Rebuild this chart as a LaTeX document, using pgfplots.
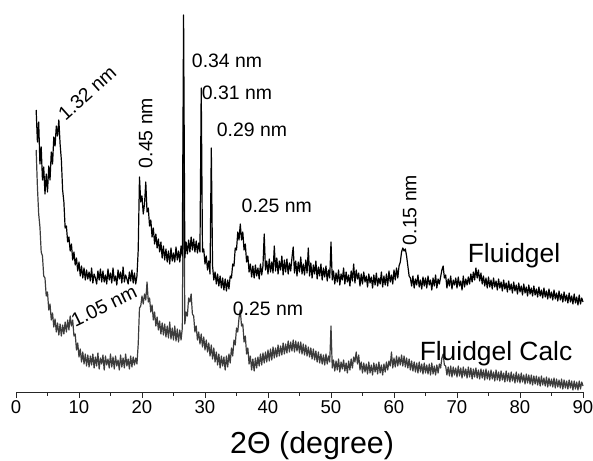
\documentclass[border=0pt]{standalone}
\usepackage{pgfplots}
\pgfplotsset{compat=1.18}
\usepackage{fontspec}
\setmainfont{Liberation Sans}
\definecolor{calc}{HTML}{3C3C3C}
\newcommand\lab{\fontsize{19.5}{22}\selectfont}
\newcommand\biglab{\fontsize{26.5}{30}\selectfont}
\begin{document}
\begin{tikzpicture}
\useasboundingbox (-16bp,-69bp) rectangle (577bp,392bp);
\begin{axis}[
  at={(0,0)}, anchor=south west,
  scale only axis, width=567bp, height=392bp,
  xmin=0, xmax=90, ymin=0, ymax=392,
  axis x line=bottom, axis y line=none,
  x axis line style={-, line width=0.9bp, color=black!85},
  xtick={0,10,...,90}, minor x tick num=1,
  tick align=outside, major tick length=6bp, minor tick length=3.5bp,
  every tick/.style={line width=0.9bp, color=black!85},
  xticklabel style={font=\fontsize{18.6}{20}\selectfont, inner sep=2bp},
  /pgf/number format/assume math mode=true,
  clip=false,
  every axis plot/.append style={line width=1.2bp, line join=round},
]
\addplot[calc] table[row sep=\\] {
x y\\
3.2 242\\ 3.4 205\\ 3.6 178\\ 3.8 165\\ 4.0 140\\ 4.2 136\\ 4.4 116\\ 4.6 114\\ 4.8 96\\ 5.0 100\\
5.2 82\\ 5.4 88\\ 5.6 72\\ 5.8 79\\ 6.0 65\\ 6.2 73\\ 6.4 60\\ 6.6 69\\ 6.8 57\\ 7.0 68\\
7.2 56\\ 7.4 67\\ 7.6 58\\ 7.8 70\\ 8.0 60\\ 8.2 72\\ 8.4 62\\ 8.6 76\\ 8.8 66\\ 9.0 72\\
9.2 56\\ 9.4 58\\ 9.6 42\\ 9.8 49\\ 10.0 35\\ 10.2 43\\ 10.4 30\\ 10.6 40\\ 10.8 28\\ 11.0 38\\
11.2 26\\ 11.4 37\\ 11.6 25\\ 11.8 36\\ 12.0 27\\ 12.2 38\\ 12.4 24\\ 12.6 35\\ 12.8 26\\ 13.0 39\\
13.2 23\\ 13.4 34\\ 13.6 28\\ 13.8 37\\ 14.0 22\\ 14.2 36\\ 14.4 27\\ 14.6 33\\ 14.8 24\\ 15.0 38\\
15.2 25\\ 15.4 35\\ 15.6 23\\ 15.8 36\\ 16.0 26\\ 16.2 32\\ 16.4 22\\ 16.6 37\\ 16.8 25\\ 17.0 34\\
17.2 24\\ 17.4 38\\ 17.6 26\\ 17.8 33\\ 18.0 23\\ 18.2 36\\ 18.4 25\\ 18.6 35\\ 18.8 27\\ 19.0 34\\
19.2 28\\ 19.4 48\\ 19.6 84\\ 19.8 86\\ 20.0 96\\ 20.2 88\\ 20.4 98\\ 20.6 92\\ 20.8 110\\ 21.0 90\\
21.2 94\\ 21.4 80\\ 21.6 87\\ 21.8 72\\ 22.0 80\\ 22.2 66\\ 22.4 75\\ 22.6 62\\ 22.8 71\\ 23.0 58\\
23.2 69\\ 23.4 57\\ 23.6 68\\ 23.8 55\\ 24.0 66\\ 24.2 54\\ 24.4 70\\ 24.6 53\\ 24.8 64\\ 25.0 52\\
25.2 66\\ 25.4 51\\ 25.6 63\\ 25.8 50\\ 26.0 62\\ 26.2 52\\ 26.4 64\\ 26.6 260\\ 26.8 68\\ 27.0 80\\
27.2 76\\ 27.4 94\\ 27.6 90\\ 27.8 98\\ 28.0 78\\ 28.2 76\\ 28.4 60\\ 28.6 66\\ 28.8 52\\ 29.0 60\\
29.2 48\\ 29.4 58\\ 29.6 45\\ 29.8 55\\ 30.0 42\\ 30.2 52\\ 30.4 40\\ 30.6 49\\ 30.8 36\\ 31.0 47\\
31.2 33\\ 31.4 44\\ 31.6 30\\ 31.8 40\\ 32.0 27\\ 32.2 38\\ 32.4 24\\ 32.6 36\\ 32.8 26\\ 33.0 35\\
33.2 22\\ 33.4 36\\ 33.6 25\\ 33.8 38\\ 34.0 29\\ 34.2 44\\ 34.4 36\\ 34.6 52\\ 34.8 47\\ 35.0 64\\
35.2 60\\ 35.4 74\\ 35.6 82\\ 35.8 66\\ 36.0 68\\ 36.2 50\\ 36.4 56\\ 36.6 38\\ 36.8 44\\ 37.0 28\\
37.2 36\\ 37.4 22\\ 37.6 33\\ 37.8 21\\ 38.0 34\\ 38.2 24\\ 38.4 35\\ 38.6 26\\ 38.8 38\\ 39.0 27\\
39.2 39\\ 39.4 29\\ 39.6 40\\ 39.8 30\\ 40.0 42\\ 40.2 31\\ 40.4 43\\ 40.6 32\\ 40.8 45\\ 41.0 34\\
41.2 44\\ 41.4 35\\ 41.6 47\\ 41.8 36\\ 42.0 46\\ 42.2 37\\ 42.4 49\\ 42.6 38\\ 42.8 48\\ 43.0 39\\
43.2 51\\ 43.4 40\\ 43.6 50\\ 43.8 41\\ 44.0 52\\ 44.2 40\\ 44.4 51\\ 44.6 41\\ 44.8 50\\ 45.0 39\\
45.2 50\\ 45.4 38\\ 45.6 48\\ 45.8 37\\ 46.0 47\\ 46.2 36\\ 46.4 45\\ 46.6 35\\ 46.8 44\\ 47.0 33\\
47.2 43\\ 47.4 32\\ 47.6 41\\ 47.8 30\\ 48.0 40\\ 48.2 29\\ 48.4 38\\ 48.6 28\\ 48.8 37\\ 49.0 27\\
49.2 38\\ 49.4 28\\ 49.6 36\\ 49.8 30\\ 50.0 66\\ 50.2 24\\ 50.4 32\\ 50.6 21\\ 50.8 31\\ 51.0 22\\
51.2 33\\ 51.4 20\\ 51.6 30\\ 51.8 23\\ 52.0 32\\ 52.2 21\\ 52.4 29\\ 52.6 19\\ 52.8 31\\ 53.0 22\\
53.2 33\\ 53.4 24\\ 53.6 35\\ 53.8 30\\ 54.0 40\\ 54.2 28\\ 54.4 37\\ 54.6 22\\ 54.8 30\\ 55.0 19\\
55.2 29\\ 55.4 20\\ 55.6 28\\ 55.8 18\\ 56.0 30\\ 56.2 19\\ 56.4 27\\ 56.6 17\\ 56.8 29\\ 57.0 20\\
57.2 28\\ 57.4 18\\ 57.6 30\\ 57.8 19\\ 58.0 27\\ 58.2 17\\ 58.4 28\\ 58.6 20\\ 58.8 30\\ 59.0 22\\
59.2 31\\ 59.4 26\\ 59.6 40\\ 59.8 24\\ 60.0 34\\ 60.2 25\\ 60.4 36\\ 60.6 26\\ 60.8 35\\ 61.0 27\\
61.2 37\\ 61.4 26\\ 61.6 36\\ 61.8 25\\ 62.0 34\\ 62.2 24\\ 62.4 33\\ 62.6 22\\ 62.8 31\\ 63.0 21\\
63.2 30\\ 63.4 20\\ 63.6 29\\ 63.8 19\\ 64.0 30\\ 64.2 20\\ 64.4 28\\ 64.6 18\\ 64.8 29\\ 65.0 19\\
65.2 27\\ 65.4 18\\ 65.6 28\\ 65.8 17\\ 66.0 29\\ 66.2 18\\ 66.4 26\\ 66.6 17\\ 66.8 27\\ 67.0 19\\
67.2 28\\ 67.4 24\\ 67.6 34\\ 67.8 38\\ 68.0 27\\ 68.2 26\\ 68.4 17\\ 68.6 25\\ 68.8 16\\ 69.0 26\\
69.2 15\\ 69.4 25\\ 69.6 17\\ 69.8 24\\ 70.0 15\\ 70.2 26\\ 70.4 16\\ 70.6 24\\ 70.8 14\\ 71.0 25\\
71.2 16\\ 71.4 23\\ 71.6 14\\ 71.8 25\\ 72.0 15\\ 72.2 24\\ 72.4 13\\ 72.6 23\\ 72.8 15\\ 73.0 24\\
73.2 14\\ 73.4 22\\ 73.6 13\\ 73.8 23\\ 74.0 14\\ 74.2 22\\ 74.4 12\\ 74.6 23\\ 74.8 13\\ 75.0 21\\
75.2 12\\ 75.4 22\\ 75.6 13\\ 75.8 20\\ 76.0 11\\ 76.2 22\\ 76.4 12\\ 76.6 20\\ 76.8 11\\ 77.0 21\\
77.2 12\\ 77.4 19\\ 77.6 10\\ 77.8 21\\ 78.0 11\\ 78.2 19\\ 78.4 10\\ 78.6 20\\ 78.8 11\\ 79.0 18\\
79.2 9\\ 79.4 20\\ 79.6 10\\ 79.8 18\\ 80.0 9\\ 80.2 19\\ 80.4 10\\ 80.6 17\\ 80.8 8\\ 81.0 18\\
81.2 9\\ 81.4 17\\ 81.6 8\\ 81.8 17\\ 82.0 7\\ 82.2 16\\ 82.4 8\\ 82.6 16\\ 82.8 7\\ 83.0 15\\
83.2 6\\ 83.4 16\\ 83.6 7\\ 83.8 14\\ 84.0 6\\ 84.2 15\\ 84.4 5\\ 84.6 14\\ 84.8 6\\ 85.0 13\\
85.2 5\\ 85.4 14\\ 85.6 4\\ 85.8 13\\ 86.0 5\\ 86.2 12\\ 86.4 4\\ 86.6 13\\ 86.8 3\\ 87.0 12\\
87.2 4\\ 87.4 11\\ 87.6 3\\ 87.8 12\\ 88.0 4\\ 88.2 11\\ 88.4 2\\ 88.6 11\\ 88.8 3\\ 89.0 10\\
89.2 2\\ 89.4 11\\ 89.6 3\\ 89.8 10\\ 90.0 6\\
};
\addplot[black] table[row sep=\\] {
x y\\
3.2 282\\ 3.4 250\\ 3.6 270\\ 3.8 228\\ 4.0 245\\ 4.2 212\\ 4.4 225\\ 4.6 198\\ 4.8 218\\ 5.0 200\\
5.2 226\\ 5.4 212\\ 5.6 240\\ 5.8 228\\ 6.0 255\\ 6.2 246\\ 6.4 266\\ 6.6 256\\ 6.8 272\\ 7.0 248\\
7.2 232\\ 7.4 202\\ 7.6 190\\ 7.8 164\\ 8.0 166\\ 8.2 150\\ 8.4 155\\ 8.6 141\\ 8.8 148\\ 9.0 132\\
9.2 140\\ 9.4 127\\ 9.6 134\\ 9.8 121\\ 10.0 130\\ 10.2 116\\ 10.4 126\\ 10.6 114\\ 10.8 124\\ 11.0 112\\
11.2 122\\ 11.4 113\\ 11.6 120\\ 11.8 111\\ 12.0 124\\ 12.2 109\\ 12.4 118\\ 12.6 114\\ 12.8 108\\ 13.0 121\\
13.2 112\\ 13.4 123\\ 13.6 110\\ 13.8 121\\ 14.0 110\\ 14.2 117\\ 14.4 108\\ 14.6 123\\ 14.8 112\\ 15.0 119\\
15.2 109\\ 15.4 124\\ 15.6 111\\ 15.8 116\\ 16.0 107\\ 16.2 122\\ 16.4 113\\ 16.6 120\\ 16.8 109\\ 17.0 125\\
17.2 110\\ 17.4 117\\ 17.6 113\\ 17.8 108\\ 18.0 120\\ 18.2 111\\ 18.4 122\\ 18.6 109\\ 18.8 119\\ 19.0 108\\
19.2 116\\ 19.4 142\\ 19.6 215\\ 19.8 190\\ 20.0 196\\ 20.2 178\\ 20.4 188\\ 20.6 210\\ 20.8 180\\ 21.0 184\\
21.2 166\\ 21.4 172\\ 21.6 155\\ 21.8 164\\ 22.0 148\\ 22.2 158\\ 22.4 144\\ 22.6 153\\ 22.8 140\\ 23.0 150\\
23.2 134\\ 23.4 146\\ 23.6 132\\ 23.8 143\\ 24.0 130\\ 24.2 141\\ 24.4 128\\ 24.6 144\\ 24.8 131\\ 25.0 139\\
25.2 130\\ 25.4 145\\ 25.6 132\\ 25.8 141\\ 26.0 130\\ 26.2 146\\ 26.4 136\\ 26.6 377\\ 26.8 134\\ 27.0 150\\
27.2 138\\ 27.4 152\\ 27.6 140\\ 27.8 155\\ 28.0 142\\ 28.2 153\\ 28.4 140\\ 28.6 151\\ 28.8 139\\ 29.0 149\\
29.2 140\\ 29.4 304\\ 29.6 140\\ 29.8 143\\ 30.0 128\\ 30.2 136\\ 30.4 122\\ 30.6 131\\ 30.8 118\\ 31.0 244\\
31.2 126\\ 31.4 112\\ 31.6 120\\ 31.8 108\\ 32.0 118\\ 32.2 106\\ 32.4 116\\ 32.6 104\\ 32.8 114\\ 33.0 102\\
33.2 113\\ 33.4 101\\ 33.6 112\\ 33.8 103\\ 34.0 116\\ 34.2 114\\ 34.4 128\\ 34.6 126\\ 34.8 144\\ 35.0 142\\
35.2 160\\ 35.4 152\\ 35.6 168\\ 35.8 152\\ 36.0 160\\ 36.2 142\\ 36.4 148\\ 36.6 130\\ 36.8 136\\ 37.0 120\\
37.2 128\\ 37.4 115\\ 37.6 126\\ 37.8 114\\ 38.0 127\\ 38.2 116\\ 38.4 124\\ 38.6 113\\ 38.8 128\\ 39.0 117\\
39.2 126\\ 39.4 158\\ 39.6 122\\ 39.8 131\\ 40.0 118\\ 40.2 133\\ 40.4 120\\ 40.6 130\\ 40.8 119\\ 41.0 146\\
41.2 121\\ 41.4 134\\ 41.6 118\\ 41.8 131\\ 42.0 122\\ 42.2 136\\ 42.4 117\\ 42.6 132\\ 42.8 120\\ 43.0 133\\
43.2 118\\ 43.4 129\\ 43.6 121\\ 43.8 134\\ 44.0 145\\ 44.2 119\\ 44.4 131\\ 44.6 116\\ 44.8 130\\ 45.0 120\\
45.2 135\\ 45.4 118\\ 45.6 128\\ 45.8 117\\ 46.0 132\\ 46.2 119\\ 46.4 144\\ 46.6 116\\ 46.8 129\\ 47.0 114\\
47.2 127\\ 47.4 118\\ 47.6 131\\ 47.8 113\\ 48.0 125\\ 48.2 116\\ 48.4 128\\ 48.6 112\\ 48.8 124\\ 49.0 115\\
49.2 126\\ 49.4 111\\ 49.6 122\\ 49.8 114\\ 50.0 150\\ 50.2 112\\ 50.4 121\\ 50.6 108\\ 50.8 119\\ 51.0 110\\
51.2 122\\ 51.4 107\\ 51.6 118\\ 51.8 112\\ 52.0 124\\ 52.2 108\\ 52.4 120\\ 52.6 110\\ 52.8 117\\ 53.0 106\\
53.2 121\\ 53.4 111\\ 53.6 128\\ 53.8 109\\ 54.0 122\\ 54.2 113\\ 54.4 119\\ 54.6 106\\ 54.8 118\\ 55.0 108\\
55.2 120\\ 55.4 110\\ 55.6 116\\ 55.8 105\\ 56.0 118\\ 56.2 109\\ 56.4 115\\ 56.6 104\\ 56.8 117\\ 57.0 107\\
57.2 119\\ 57.4 106\\ 57.6 114\\ 57.8 108\\ 58.0 120\\ 58.2 105\\ 58.4 116\\ 58.6 107\\ 58.8 118\\ 59.0 106\\
59.2 121\\ 59.4 110\\ 59.6 117\\ 59.8 108\\ 60.0 122\\ 60.2 112\\ 60.4 124\\ 60.6 114\\ 60.8 126\\ 61.0 130\\
61.2 140\\ 61.4 144\\ 61.6 141\\ 61.8 143\\ 62.0 136\\ 62.2 126\\ 62.4 116\\ 62.6 114\\ 62.8 106\\ 63.0 116\\
63.2 104\\ 63.4 113\\ 63.6 107\\ 63.8 117\\ 64.0 105\\ 64.2 112\\ 64.4 103\\ 64.6 115\\ 64.8 106\\ 65.0 114\\
65.2 104\\ 65.4 116\\ 65.6 107\\ 65.8 112\\ 66.0 102\\ 66.2 114\\ 66.4 106\\ 66.6 117\\ 66.8 104\\ 67.0 113\\
67.2 108\\ 67.4 115\\ 67.6 122\\ 67.8 126\\ 68.0 114\\ 68.2 117\\ 68.4 104\\ 68.6 113\\ 68.8 106\\ 69.0 116\\
69.2 103\\ 69.4 112\\ 69.6 107\\ 69.8 114\\ 70.0 104\\ 70.2 115\\ 70.4 106\\ 70.6 111\\ 70.8 102\\ 71.0 116\\
71.2 105\\ 71.4 113\\ 71.6 107\\ 71.8 115\\ 72.0 108\\ 72.2 118\\ 72.4 110\\ 72.6 120\\ 72.8 112\\ 73.0 124\\
73.2 114\\ 73.4 122\\ 73.6 111\\ 73.8 119\\ 74.0 108\\ 74.2 116\\ 74.4 106\\ 74.6 114\\ 74.8 104\\ 75.0 115\\
75.2 105\\ 75.4 112\\ 75.6 103\\ 75.8 114\\ 76.0 105\\ 76.2 111\\ 76.4 102\\ 76.6 113\\ 76.8 104\\ 77.0 110\\
77.2 101\\ 77.4 112\\ 77.6 103\\ 77.8 109\\ 78.0 100\\ 78.2 111\\ 78.4 102\\ 78.6 108\\ 78.8 99\\ 79.0 110\\
79.2 101\\ 79.4 107\\ 79.6 98\\ 79.8 109\\ 80.0 100\\ 80.2 106\\ 80.4 97\\ 80.6 108\\ 80.8 99\\ 81.0 105\\
81.2 96\\ 81.4 107\\ 81.6 98\\ 81.8 104\\ 82.0 96\\ 82.2 106\\ 82.4 97\\ 82.6 103\\ 82.8 95\\ 83.0 105\\
83.2 96\\ 83.4 102\\ 83.6 94\\ 83.8 104\\ 84.0 95\\ 84.2 101\\ 84.4 93\\ 84.6 103\\ 84.8 94\\ 85.0 100\\
85.2 92\\ 85.4 102\\ 85.6 93\\ 85.8 99\\ 86.0 91\\ 86.2 101\\ 86.4 92\\ 86.6 98\\ 86.8 90\\ 87.0 100\\
87.2 91\\ 87.4 97\\ 87.6 89\\ 87.8 99\\ 88.0 90\\ 88.2 96\\ 88.4 88\\ 88.6 98\\ 88.8 89\\ 89.0 95\\
89.2 87\\ 89.4 97\\ 89.6 88\\ 89.8 94\\ 90.0 90\\
};
\node[font=\lab, rotate=42] at (axis cs:11.3,299) {1.32 nm};
\node[font=\lab, rotate=90] at (axis cs:20.6,259) {0.45 nm};
\node[font=\lab, anchor=base] at (axis cs:33.5,324) {0.34 nm};
\node[font=\lab, anchor=base] at (axis cs:35.08,292) {0.31 nm};
\node[font=\lab, anchor=base] at (axis cs:37.46,255) {0.29 nm};
\node[font=\lab, anchor=base] at (axis cs:41.4,179) {0.25 nm};
\node[font=\lab, rotate=90] at (axis cs:62.5,182) {0.15 nm};
\node[font=\biglab, anchor=base] at (axis cs:79.05,129) {Fluidgel};
\node[font=\lab, rotate=26] at (axis cs:13.97,86) {1.05 nm};
\node[font=\lab, anchor=base] at (axis cs:40.0,77) {0.25 nm};
\node[font=\biglab, anchor=base] at (axis cs:76.2,32) {Fluidgel Calc};
\node[font=\fontsize{30.5}{34}\selectfont, anchor=base] at (axis cs:47.0,-61) {2Θ (degree)};
\end{axis}
\end{tikzpicture}
\end{document}
